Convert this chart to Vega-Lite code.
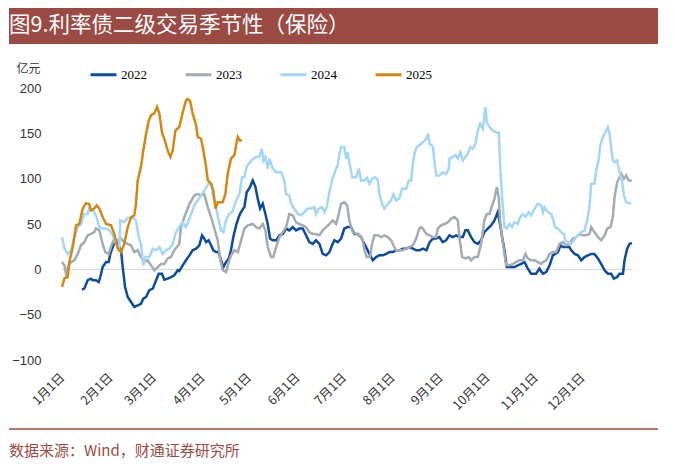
{
"$schema": "https://vega.github.io/schema/vega-lite/v6.json",
"padding": {"left": 8, "top": 8, "right": 8, "bottom": 0},
"background": "white",
"config": {"view": {"stroke": null}, "font": "Noto Sans CJK SC"},
"columns": 1,
"align": "none",
"spacing": 16,
"resolve": {"legend": {"color": "independent"}, "scale": {"x": "independent", "y": "independent"}},
"concat": [
{
"width": 649, "height": 36,
"data": {"values": [{"t": "图9.利率债二级交易季节性（保险）"}]},
"layer": [
{"mark": {"type": "rect", "color": "#9B4B44"}, "encoding": {}},
{"mark": {"type": "text", "align": "left", "baseline": "middle", "color": "white", "fontSize": 21.5, "font": "Noto Sans CJK SC"},
 "encoding": {"text": {"field": "t", "type": "nominal"},
  "x": {"datum": 0, "type": "quantitative", "scale": {"domain": [0, 1]}, "axis": null},
  "y": {"datum": 0.5, "type": "quantitative", "scale": {"domain": [0, 1]}, "axis": null}}}
]
},
{
"width": 623, "height": 272,
"layer": [
{
"data": {"values": [{"z": 0, "a": 1, "b": 367}]},
"mark": {"type": "rule", "color": "#d4d4d4", "strokeWidth": 1},
"encoding": {"y": {"field": "z", "type": "quantitative"}, "x": {"field": "a", "type": "quantitative"}, "x2": {"field": "b"}}
},
{
"data": {"values": [
{"s":"2022","d":13.8,"v":-22.4},{"s":"2022","d":15.3,"v":-21.3},{"s":"2022","d":17.5,"v":-12},{"s":"2022","d":19.6,"v":-10.3},{"s":"2022","d":20.7,"v":-12},{"s":"2022","d":22.8,"v":-12},{"s":"2022","d":24.6,"v":-14},{"s":"2022","d":25.6,"v":-8.5},{"s":"2022","d":27.1,"v":2.5},{"s":"2022","d":29.3,"v":8},{"s":"2022","d":31,"v":8},{"s":"2022","d":32,"v":17},{"s":"2022","d":33.6,"v":24.6},{"s":"2022","d":35.2,"v":32},{"s":"2022","d":36.8,"v":28},{"s":"2022","d":38.9,"v":21},{"s":"2022","d":40,"v":2.5},{"s":"2022","d":41.5,"v":-19.5},{"s":"2022","d":43.2,"v":-30.5},{"s":"2022","d":45.3,"v":-36},{"s":"2022","d":47.4,"v":-41.5},{"s":"2022","d":49.6,"v":-39.7},{"s":"2022","d":51.7,"v":-38},{"s":"2022","d":53.2,"v":-32.3},{"s":"2022","d":55,"v":-30.5},{"s":"2022","d":57.1,"v":-23},{"s":"2022","d":59.3,"v":-21.3},{"s":"2022","d":61.4,"v":-12},{"s":"2022","d":63.1,"v":-4.8},{"s":"2022","d":65.2,"v":-4.8},{"s":"2022","d":66.7,"v":-11.4},{"s":"2022","d":68.9,"v":-10.3},{"s":"2022","d":71,"v":-8.5},{"s":"2022","d":73.1,"v":-6.6},{"s":"2022","d":75.3,"v":-1},{"s":"2022","d":76.3,"v":-2},{"s":"2022","d":78.5,"v":4.4},{"s":"2022","d":80.6,"v":10},{"s":"2022","d":82.8,"v":15.4},{"s":"2022","d":84.9,"v":21},{"s":"2022","d":87.1,"v":22.8},{"s":"2022","d":89.2,"v":26.5},{"s":"2022","d":90.9,"v":37.5},{"s":"2022","d":92.4,"v":33.8},{"s":"2022","d":93.5,"v":30},{"s":"2022","d":95.2,"v":32},{"s":"2022","d":96.7,"v":26.5},{"s":"2022","d":98.2,"v":21},{"s":"2022","d":99.9,"v":19},{"s":"2022","d":101.6,"v":19},{"s":"2022","d":103.1,"v":10},{"s":"2022","d":104.6,"v":2.5},{"s":"2022","d":106.3,"v":8},{"s":"2022","d":108.1,"v":12},{"s":"2022","d":109.5,"v":21},{"s":"2022","d":111,"v":35.6},{"s":"2022","d":112.8,"v":48.5},{"s":"2022","d":114.5,"v":57.7},{"s":"2022","d":115.3,"v":61},{"s":"2022","d":116.6,"v":65},{"s":"2022","d":118.1,"v":68.7},{"s":"2022","d":119.6,"v":85},{"s":"2022","d":121.8,"v":91},{"s":"2022","d":123.5,"v":98},{"s":"2022","d":125.2,"v":91},{"s":"2022","d":126.7,"v":78},{"s":"2022","d":128.2,"v":67},{"s":"2022","d":129.9,"v":72.4},{"s":"2022","d":131.6,"v":61},{"s":"2022","d":133.1,"v":50},{"s":"2022","d":134.6,"v":34},{"s":"2022","d":136.3,"v":32},{"s":"2022","d":138.5,"v":32},{"s":"2022","d":140.6,"v":37.5},{"s":"2022","d":142.8,"v":39},{"s":"2022","d":144.9,"v":45},{"s":"2022","d":147,"v":43},{"s":"2022","d":149.2,"v":46.6},{"s":"2022","d":151.3,"v":43},{"s":"2022","d":153.4,"v":45},{"s":"2022","d":155.6,"v":45},{"s":"2022","d":157.7,"v":37.5},{"s":"2022","d":159.8,"v":30},{"s":"2022","d":162,"v":28},{"s":"2022","d":164.1,"v":32},{"s":"2022","d":166.3,"v":28},{"s":"2022","d":168.4,"v":17},{"s":"2022","d":170.6,"v":15.4},{"s":"2022","d":172.7,"v":19},{"s":"2022","d":174.4,"v":26.5},{"s":"2022","d":175.9,"v":32},{"s":"2022","d":178.1,"v":30},{"s":"2022","d":180.2,"v":34},{"s":"2022","d":182.3,"v":45},{"s":"2022","d":184.5,"v":46.6},{"s":"2022","d":186.6,"v":46.6},{"s":"2022","d":188.7,"v":39},{"s":"2022","d":190.9,"v":39},{"s":"2022","d":193,"v":35.6},{"s":"2022","d":195.2,"v":28},{"s":"2022","d":196.7,"v":22.8},{"s":"2022","d":198.4,"v":17},{"s":"2022","d":200.6,"v":10},{"s":"2022","d":202.7,"v":13.6},{"s":"2022","d":204.8,"v":15.4},{"s":"2022","d":207,"v":15.4},{"s":"2022","d":209.1,"v":17},{"s":"2022","d":211.2,"v":19},{"s":"2022","d":213.4,"v":19},{"s":"2022","d":215.5,"v":21},{"s":"2022","d":217.6,"v":21},{"s":"2022","d":219.8,"v":22.8},{"s":"2022","d":221.9,"v":22.8},{"s":"2022","d":224.1,"v":24.6},{"s":"2022","d":226.3,"v":22.8},{"s":"2022","d":228.4,"v":21},{"s":"2022","d":230.5,"v":21},{"s":"2022","d":232.7,"v":22.8},{"s":"2022","d":235,"v":21},{"s":"2022","d":237.1,"v":30},{"s":"2022","d":239.3,"v":34},{"s":"2022","d":241.2,"v":34},{"s":"2022","d":243.3,"v":35.6},{"s":"2022","d":245.5,"v":30},{"s":"2022","d":247.6,"v":32},{"s":"2022","d":249.8,"v":37.5},{"s":"2022","d":251.9,"v":35.6},{"s":"2022","d":254.1,"v":37.5},{"s":"2022","d":256.2,"v":35.6},{"s":"2022","d":258.4,"v":35.6},{"s":"2022","d":260,"v":43},{"s":"2022","d":261.6,"v":43},{"s":"2022","d":263.7,"v":35.6},{"s":"2022","d":265.8,"v":30},{"s":"2022","d":268,"v":28},{"s":"2022","d":270.1,"v":32},{"s":"2022","d":272.2,"v":41},{"s":"2022","d":274.4,"v":45},{"s":"2022","d":276.5,"v":48.5},{"s":"2022","d":278.7,"v":54},{"s":"2022","d":280.8,"v":63},{"s":"2022","d":282.3,"v":50},{"s":"2022","d":283.6,"v":35.6},{"s":"2022","d":285.1,"v":21},{"s":"2022","d":286.6,"v":2.5},{"s":"2022","d":289.4,"v":2.5},{"s":"2022","d":291.5,"v":2.5},{"s":"2022","d":293.7,"v":4.4},{"s":"2022","d":295.8,"v":6},{"s":"2022","d":298,"v":8},{"s":"2022","d":300.1,"v":0.8},{"s":"2022","d":302.2,"v":-4.8},{"s":"2022","d":305.4,"v":-4.8},{"s":"2022","d":307.6,"v":0.8},{"s":"2022","d":308.2,"v":-1},{"s":"2022","d":309.8,"v":-4.8},{"s":"2022","d":311.9,"v":-3},{"s":"2022","d":314.1,"v":4.4},{"s":"2022","d":316.2,"v":15.4},{"s":"2022","d":317.7,"v":17},{"s":"2022","d":319.4,"v":19},{"s":"2022","d":321.1,"v":26.5},{"s":"2022","d":322.6,"v":24.6},{"s":"2022","d":324.7,"v":24.6},{"s":"2022","d":326.8,"v":24.6},{"s":"2022","d":328,"v":21},{"s":"2022","d":330.1,"v":17},{"s":"2022","d":332.3,"v":15.4},{"s":"2022","d":334.4,"v":10},{"s":"2022","d":336.5,"v":13.6},{"s":"2022","d":338.7,"v":15.4},{"s":"2022","d":340.8,"v":17},{"s":"2022","d":342.9,"v":17},{"s":"2022","d":345.1,"v":12},{"s":"2022","d":347.2,"v":6},{"s":"2022","d":349.4,"v":-1},{"s":"2022","d":351.5,"v":-4.8},{"s":"2022","d":353.6,"v":-4.8},{"s":"2022","d":355.4,"v":-10.3},{"s":"2022","d":357.5,"v":-8.5},{"s":"2022","d":359,"v":-4.8},{"s":"2022","d":361.2,"v":-4.8},{"s":"2022","d":362.2,"v":10},{"s":"2022","d":363.9,"v":22.8},{"s":"2022","d":365.4,"v":28},{"s":"2022","d":366.9,"v":29},
{"s":"2023","d":1,"v":8},{"s":"2023","d":2.5,"v":4.4},{"s":"2023","d":3.6,"v":-4.8},{"s":"2023","d":5.3,"v":4.4},{"s":"2023","d":6.8,"v":8},{"s":"2023","d":8.9,"v":10},{"s":"2023","d":11.1,"v":17},{"s":"2023","d":13.2,"v":26.5},{"s":"2023","d":15.3,"v":30},{"s":"2023","d":17.5,"v":37.5},{"s":"2023","d":19.6,"v":39},{"s":"2023","d":21.7,"v":41},{"s":"2023","d":22.8,"v":45},{"s":"2023","d":25,"v":43},{"s":"2023","d":27.1,"v":28},{"s":"2023","d":28.8,"v":19},{"s":"2023","d":31,"v":17},{"s":"2023","d":33.1,"v":28},{"s":"2023","d":34.6,"v":34},{"s":"2023","d":36.8,"v":32},{"s":"2023","d":38.9,"v":34},{"s":"2023","d":41,"v":30},{"s":"2023","d":43.2,"v":28},{"s":"2023","d":45.3,"v":26.5},{"s":"2023","d":47.4,"v":19},{"s":"2023","d":49.6,"v":21},{"s":"2023","d":51.7,"v":13.6},{"s":"2023","d":53.9,"v":8},{"s":"2023","d":56,"v":10},{"s":"2023","d":58.2,"v":4.4},{"s":"2023","d":60.3,"v":-1},{"s":"2023","d":62.5,"v":2.5},{"s":"2023","d":64.6,"v":6},{"s":"2023","d":66.7,"v":6},{"s":"2023","d":68.9,"v":12},{"s":"2023","d":71,"v":13.6},{"s":"2023","d":73.1,"v":21},{"s":"2023","d":76.3,"v":28},{"s":"2023","d":77.4,"v":46.6},{"s":"2023","d":79.6,"v":57.7},{"s":"2023","d":82.8,"v":72},{"s":"2023","d":86,"v":81.6},{"s":"2023","d":88.2,"v":83},{"s":"2023","d":90.3,"v":81.6},{"s":"2023","d":92.4,"v":83},{"s":"2023","d":94.6,"v":68.7},{"s":"2023","d":96.7,"v":57.7},{"s":"2023","d":98.8,"v":45},{"s":"2023","d":101,"v":32},{"s":"2023","d":102.5,"v":11.8},{"s":"2023","d":104.2,"v":-1},{"s":"2023","d":106.3,"v":-3},{"s":"2023","d":108.1,"v":8},{"s":"2023","d":109.5,"v":15.4},{"s":"2023","d":111.7,"v":21},{"s":"2023","d":113.9,"v":19},{"s":"2023","d":116,"v":32},{"s":"2023","d":118.1,"v":45},{"s":"2023","d":120.3,"v":48.5},{"s":"2023","d":123.5,"v":50},{"s":"2023","d":125.6,"v":46.6},{"s":"2023","d":127.7,"v":45},{"s":"2023","d":129.9,"v":50},{"s":"2023","d":131.6,"v":43},{"s":"2023","d":133.1,"v":24.6},{"s":"2023","d":135.2,"v":13.6},{"s":"2023","d":136.7,"v":13.6},{"s":"2023","d":138.5,"v":24.6},{"s":"2023","d":140.6,"v":35.6},{"s":"2023","d":142.8,"v":41},{"s":"2023","d":144.9,"v":46.6},{"s":"2023","d":147,"v":61},{"s":"2023","d":149.2,"v":59.5},{"s":"2023","d":151.3,"v":52},{"s":"2023","d":153.4,"v":50},{"s":"2023","d":155.6,"v":48.5},{"s":"2023","d":157.7,"v":46.6},{"s":"2023","d":159.8,"v":41},{"s":"2023","d":162,"v":39},{"s":"2023","d":164.1,"v":39},{"s":"2023","d":166.3,"v":37.5},{"s":"2023","d":168.4,"v":43},{"s":"2023","d":170.6,"v":46.6},{"s":"2023","d":172.7,"v":50},{"s":"2023","d":174.9,"v":54},{"s":"2023","d":177,"v":50},{"s":"2023","d":178.7,"v":61},{"s":"2023","d":180.2,"v":72.4},{"s":"2023","d":182.3,"v":74},{"s":"2023","d":184.1,"v":70.6},{"s":"2023","d":185.5,"v":54},{"s":"2023","d":186.6,"v":46.6},{"s":"2023","d":187.7,"v":41},{"s":"2023","d":189.8,"v":39},{"s":"2023","d":192,"v":37.5},{"s":"2023","d":194.1,"v":32},{"s":"2023","d":195.2,"v":21},{"s":"2023","d":196.7,"v":13.6},{"s":"2023","d":198.8,"v":13.6},{"s":"2023","d":200.1,"v":28},{"s":"2023","d":201.6,"v":37.5},{"s":"2023","d":203.8,"v":37.5},{"s":"2023","d":205.9,"v":35.6},{"s":"2023","d":208,"v":37.5},{"s":"2023","d":210.2,"v":35.6},{"s":"2023","d":212.3,"v":32},{"s":"2023","d":213.8,"v":26.5},{"s":"2023","d":215.5,"v":21},{"s":"2023","d":217.6,"v":21},{"s":"2023","d":219.8,"v":21},{"s":"2023","d":221.9,"v":22.8},{"s":"2023","d":224.1,"v":24.6},{"s":"2023","d":226.3,"v":26.5},{"s":"2023","d":228.4,"v":34},{"s":"2023","d":230.5,"v":45},{"s":"2023","d":231.6,"v":46.6},{"s":"2023","d":232.7,"v":45},{"s":"2023","d":235,"v":39},{"s":"2023","d":237.1,"v":37.5},{"s":"2023","d":238.7,"v":35.6},{"s":"2023","d":241.2,"v":35.6},{"s":"2023","d":242.3,"v":45},{"s":"2023","d":244.4,"v":48.5},{"s":"2023","d":246.6,"v":50},{"s":"2023","d":248.8,"v":52},{"s":"2023","d":250.9,"v":56},{"s":"2023","d":253,"v":57.7},{"s":"2023","d":255.2,"v":54},{"s":"2023","d":256.2,"v":35.6},{"s":"2023","d":257.9,"v":13.6},{"s":"2023","d":260,"v":12},{"s":"2023","d":262.2,"v":13.6},{"s":"2023","d":263.7,"v":10},{"s":"2023","d":265.8,"v":13.6},{"s":"2023","d":268,"v":13.6},{"s":"2023","d":270.1,"v":28},{"s":"2023","d":272.2,"v":54},{"s":"2023","d":273.8,"v":61},{"s":"2023","d":275.5,"v":61},{"s":"2023","d":277.2,"v":70.6},{"s":"2023","d":278.7,"v":78},{"s":"2023","d":280.2,"v":90.7},{"s":"2023","d":281.5,"v":78},{"s":"2023","d":282.3,"v":54},{"s":"2023","d":283.6,"v":35.6},{"s":"2023","d":285.1,"v":17},{"s":"2023","d":286.2,"v":4.4},{"s":"2023","d":288.3,"v":4.4},{"s":"2023","d":290.5,"v":6},{"s":"2023","d":292.6,"v":8},{"s":"2023","d":294.7,"v":10},{"s":"2023","d":296.9,"v":10},{"s":"2023","d":298.6,"v":17},{"s":"2023","d":300.1,"v":12},{"s":"2023","d":302.2,"v":10},{"s":"2023","d":304.4,"v":10},{"s":"2023","d":306.5,"v":8},{"s":"2023","d":308.7,"v":6},{"s":"2023","d":309.8,"v":8},{"s":"2023","d":311.9,"v":10},{"s":"2023","d":314.1,"v":17},{"s":"2023","d":316.2,"v":19},{"s":"2023","d":318.3,"v":19},{"s":"2023","d":320.4,"v":28},{"s":"2023","d":322.6,"v":30},{"s":"2023","d":324.7,"v":26.5},{"s":"2023","d":326.8,"v":28},{"s":"2023","d":329,"v":34},{"s":"2023","d":331.1,"v":35.6},{"s":"2023","d":333.3,"v":39},{"s":"2023","d":335.4,"v":37.5},{"s":"2023","d":337.6,"v":37.5},{"s":"2023","d":339.7,"v":39},{"s":"2023","d":340.8,"v":46.6},{"s":"2023","d":342.9,"v":41},{"s":"2023","d":345.1,"v":35.6},{"s":"2023","d":347.2,"v":32},{"s":"2023","d":349.4,"v":37.5},{"s":"2023","d":351.1,"v":45},{"s":"2023","d":353.2,"v":46.6},{"s":"2023","d":354.7,"v":57.7},{"s":"2023","d":355.8,"v":80},{"s":"2023","d":357.5,"v":96},{"s":"2023","d":359,"v":101.7},{"s":"2023","d":360.1,"v":105.5},{"s":"2023","d":361.8,"v":100},{"s":"2023","d":363.3,"v":103.6},{"s":"2023","d":364.8,"v":98},{"s":"2023","d":366.9,"v":98},
{"s":"2024","d":1,"v":35.6},{"s":"2024","d":2.5,"v":23},{"s":"2024","d":4.7,"v":17},{"s":"2024","d":6.8,"v":21},{"s":"2024","d":8.9,"v":34},{"s":"2024","d":11.1,"v":46.6},{"s":"2024","d":13.2,"v":50},{"s":"2024","d":15.3,"v":61},{"s":"2024","d":17.5,"v":61},{"s":"2024","d":18.5,"v":67},{"s":"2024","d":20.7,"v":65},{"s":"2024","d":22.8,"v":59.5},{"s":"2024","d":25,"v":46.6},{"s":"2024","d":27.1,"v":45},{"s":"2024","d":29.3,"v":45},{"s":"2024","d":31.4,"v":43},{"s":"2024","d":33.6,"v":37.5},{"s":"2024","d":35.7,"v":28},{"s":"2024","d":37.8,"v":24.6},{"s":"2024","d":38.4,"v":54},{"s":"2024","d":41,"v":52},{"s":"2024","d":43.2,"v":57},{"s":"2024","d":46.4,"v":57},{"s":"2024","d":48.5,"v":54},{"s":"2024","d":50.3,"v":35.6},{"s":"2024","d":51.7,"v":28},{"s":"2024","d":53.2,"v":4.4},{"s":"2024","d":54.5,"v":13.6},{"s":"2024","d":57.1,"v":13.6},{"s":"2024","d":59.3,"v":22.8},{"s":"2024","d":61.4,"v":21},{"s":"2024","d":63.5,"v":24.6},{"s":"2024","d":65.7,"v":17},{"s":"2024","d":67.8,"v":21},{"s":"2024","d":69.9,"v":23},{"s":"2024","d":72.1,"v":28},{"s":"2024","d":73.8,"v":39},{"s":"2024","d":76.3,"v":47},{"s":"2024","d":78.5,"v":52},{"s":"2024","d":80.6,"v":46.6},{"s":"2024","d":82.4,"v":54},{"s":"2024","d":83.9,"v":61},{"s":"2024","d":86,"v":70.6},{"s":"2024","d":88.2,"v":76},{"s":"2024","d":90.3,"v":81.6},{"s":"2024","d":92.4,"v":87},{"s":"2024","d":95.2,"v":94.5},{"s":"2024","d":96.7,"v":94},{"s":"2024","d":97.8,"v":83},{"s":"2024","d":99.9,"v":68.7},{"s":"2024","d":101.6,"v":54},{"s":"2024","d":103.1,"v":43},{"s":"2024","d":104.6,"v":41},{"s":"2024","d":106.3,"v":54},{"s":"2024","d":108.1,"v":61},{"s":"2024","d":110.2,"v":63},{"s":"2024","d":112.8,"v":76},{"s":"2024","d":114.9,"v":83},{"s":"2024","d":116.6,"v":101.7},{"s":"2024","d":118.1,"v":101.7},{"s":"2024","d":119.6,"v":113},{"s":"2024","d":122.4,"v":120},{"s":"2024","d":125.6,"v":124},{"s":"2024","d":127.7,"v":124},{"s":"2024","d":129.3,"v":133},{"s":"2024","d":130.3,"v":120},{"s":"2024","d":131.6,"v":124},{"s":"2024","d":133.1,"v":111},{"s":"2024","d":134.2,"v":122},{"s":"2024","d":136.3,"v":111},{"s":"2024","d":138.5,"v":107},{"s":"2024","d":141.7,"v":107},{"s":"2024","d":143.8,"v":98},{"s":"2024","d":144.9,"v":83},{"s":"2024","d":147,"v":81.6},{"s":"2024","d":148.1,"v":72.4},{"s":"2024","d":150.2,"v":67},{"s":"2024","d":152.4,"v":61},{"s":"2024","d":154.5,"v":59.5},{"s":"2024","d":156.6,"v":63},{"s":"2024","d":158.8,"v":67},{"s":"2024","d":160.9,"v":67},{"s":"2024","d":163,"v":68.7},{"s":"2024","d":164.1,"v":61},{"s":"2024","d":165.9,"v":67},{"s":"2024","d":168,"v":68.7},{"s":"2024","d":169.5,"v":63},{"s":"2024","d":171,"v":68.7},{"s":"2024","d":172.7,"v":85},{"s":"2024","d":174.4,"v":98},{"s":"2024","d":176.5,"v":109},{"s":"2024","d":178.1,"v":115},{"s":"2024","d":179.1,"v":127.6},{"s":"2024","d":180.2,"v":135},{"s":"2024","d":182.3,"v":135},{"s":"2024","d":183.4,"v":122},{"s":"2024","d":184.5,"v":129},{"s":"2024","d":185.5,"v":118},{"s":"2024","d":187.3,"v":101.7},{"s":"2024","d":189.8,"v":101.7},{"s":"2024","d":191.6,"v":111},{"s":"2024","d":193,"v":98},{"s":"2024","d":195.2,"v":98},{"s":"2024","d":196.9,"v":101},{"s":"2024","d":198.4,"v":94.5},{"s":"2024","d":200.1,"v":100},{"s":"2024","d":202.2,"v":101.7},{"s":"2024","d":203.8,"v":98},{"s":"2024","d":204.8,"v":83},{"s":"2024","d":206.5,"v":72.4},{"s":"2024","d":208,"v":67},{"s":"2024","d":210.2,"v":72.4},{"s":"2024","d":212.3,"v":76},{"s":"2024","d":213.8,"v":83},{"s":"2024","d":215.5,"v":76},{"s":"2024","d":217.6,"v":78},{"s":"2024","d":219.4,"v":89},{"s":"2024","d":221.9,"v":89},{"s":"2024","d":223.7,"v":98},{"s":"2024","d":225.2,"v":98},{"s":"2024","d":226.3,"v":116.5},{"s":"2024","d":227.3,"v":127.6},{"s":"2024","d":228.8,"v":135},{"s":"2024","d":230.5,"v":137},{"s":"2024","d":232.7,"v":140},{"s":"2024","d":235,"v":144},{"s":"2024","d":236.1,"v":149.6},{"s":"2024","d":237.1,"v":138.6},{"s":"2024","d":239.2,"v":135},{"s":"2024","d":240.1,"v":120},{"s":"2024","d":241.2,"v":103.6},{"s":"2024","d":243.3,"v":103.6},{"s":"2024","d":245.5,"v":107},{"s":"2024","d":247.6,"v":105},{"s":"2024","d":249.4,"v":111},{"s":"2024","d":249.8,"v":122},{"s":"2024","d":251.9,"v":124},{"s":"2024","d":253.6,"v":126},{"s":"2024","d":255.2,"v":122},{"s":"2024","d":256.8,"v":129},{"s":"2024","d":258.4,"v":120},{"s":"2024","d":260,"v":124},{"s":"2024","d":261.6,"v":127.6},{"s":"2024","d":263.1,"v":135},{"s":"2024","d":264.8,"v":133},{"s":"2024","d":266.5,"v":138.6},{"s":"2024","d":268,"v":153},{"s":"2024","d":269.5,"v":160.6},{"s":"2024","d":271.2,"v":155},{"s":"2024","d":272.9,"v":179},{"s":"2024","d":273.8,"v":162},{"s":"2024","d":275.5,"v":157},{"s":"2024","d":277.6,"v":153},{"s":"2024","d":279.8,"v":151},{"s":"2024","d":281.5,"v":151},{"s":"2024","d":282.3,"v":116.5},{"s":"2024","d":283.6,"v":80},{"s":"2024","d":285.1,"v":46.6},{"s":"2024","d":286.6,"v":45},{"s":"2024","d":288.3,"v":50},{"s":"2024","d":290,"v":46.6},{"s":"2024","d":291.5,"v":52},{"s":"2024","d":293.7,"v":50},{"s":"2024","d":294.7,"v":56},{"s":"2024","d":296.9,"v":61},{"s":"2024","d":298.6,"v":57.7},{"s":"2024","d":300.8,"v":63},{"s":"2024","d":302.2,"v":59.5},{"s":"2024","d":304.4,"v":67},{"s":"2024","d":306.5,"v":72.4},{"s":"2024","d":308.7,"v":70.6},{"s":"2024","d":309.8,"v":63},{"s":"2024","d":310.8,"v":68.7},{"s":"2024","d":313,"v":63},{"s":"2024","d":315.1,"v":61},{"s":"2024","d":316.2,"v":56},{"s":"2024","d":317.7,"v":46.6},{"s":"2024","d":319.4,"v":45},{"s":"2024","d":321.5,"v":41},{"s":"2024","d":323.3,"v":39},{"s":"2024","d":324.1,"v":32},{"s":"2024","d":325.8,"v":30},{"s":"2024","d":328,"v":28},{"s":"2024","d":329.7,"v":32},{"s":"2024","d":331.1,"v":35.6},{"s":"2024","d":333.3,"v":39},{"s":"2024","d":334.4,"v":41},{"s":"2024","d":336.5,"v":43},{"s":"2024","d":338.2,"v":54},{"s":"2024","d":339.7,"v":68.7},{"s":"2024","d":340.8,"v":94.5},{"s":"2024","d":342.9,"v":94.5},{"s":"2024","d":344,"v":109},{"s":"2024","d":345.5,"v":120},{"s":"2024","d":346.7,"v":137},{"s":"2024","d":348.3,"v":146},{"s":"2024","d":349.8,"v":151},{"s":"2024","d":351.5,"v":157},{"s":"2024","d":352.6,"v":149.6},{"s":"2024","d":353.6,"v":135},{"s":"2024","d":354.7,"v":120},{"s":"2024","d":356.2,"v":118},{"s":"2024","d":357.5,"v":120},{"s":"2024","d":359,"v":107},{"s":"2024","d":360.5,"v":98},{"s":"2024","d":361.8,"v":81.6},{"s":"2024","d":363.3,"v":74},{"s":"2024","d":366.5,"v":72.4},
{"s":"2025","d":1,"v":-19.5},{"s":"2025","d":2.5,"v":-10},{"s":"2025","d":4.7,"v":-8.5},{"s":"2025","d":5.7,"v":8},{"s":"2025","d":7.9,"v":24.6},{"s":"2025","d":10,"v":48.5},{"s":"2025","d":12.1,"v":50},{"s":"2025","d":14.3,"v":67},{"s":"2025","d":16.4,"v":73},{"s":"2025","d":18.5,"v":72},{"s":"2025","d":19.6,"v":65},{"s":"2025","d":21.7,"v":67},{"s":"2025","d":23.3,"v":70.6},{"s":"2025","d":25,"v":67},{"s":"2025","d":27.1,"v":57.7},{"s":"2025","d":29.3,"v":50},{"s":"2025","d":32.5,"v":48.5},{"s":"2025","d":34.6,"v":39},{"s":"2025","d":36.8,"v":22.8},{"s":"2025","d":38.9,"v":19},{"s":"2025","d":41,"v":28},{"s":"2025","d":43.2,"v":46.6},{"s":"2025","d":45.3,"v":57},{"s":"2025","d":47.4,"v":59.5},{"s":"2025","d":48.5,"v":72},{"s":"2025","d":49.6,"v":98},{"s":"2025","d":51.7,"v":113},{"s":"2025","d":53.2,"v":131},{"s":"2025","d":55,"v":149.6},{"s":"2025","d":56.7,"v":164},{"s":"2025","d":58.2,"v":170},{"s":"2025","d":60.3,"v":172},{"s":"2025","d":62,"v":179},{"s":"2025","d":63.5,"v":172},{"s":"2025","d":65.2,"v":151},{"s":"2025","d":66.7,"v":144},{"s":"2025","d":68.9,"v":131},{"s":"2025","d":70.6,"v":124},{"s":"2025","d":72.1,"v":131},{"s":"2025","d":73.8,"v":153},{"s":"2025","d":76.3,"v":157},{"s":"2025","d":78.5,"v":173},{"s":"2025","d":80.6,"v":186},{"s":"2025","d":81.7,"v":188},{"s":"2025","d":83.2,"v":186},{"s":"2025","d":84.9,"v":172},{"s":"2025","d":87.1,"v":159},{"s":"2025","d":88.2,"v":146},{"s":"2025","d":90.3,"v":144},{"s":"2025","d":91.4,"v":135},{"s":"2025","d":93.5,"v":113},{"s":"2025","d":94.6,"v":98},{"s":"2025","d":96.7,"v":94.5},{"s":"2025","d":98.2,"v":87},{"s":"2025","d":99.5,"v":67},{"s":"2025","d":101,"v":74},{"s":"2025","d":104.2,"v":74},{"s":"2025","d":105.9,"v":83},{"s":"2025","d":107.4,"v":105.5},{"s":"2025","d":109.5,"v":122},{"s":"2025","d":111.7,"v":126},{"s":"2025","d":112.8,"v":137},{"s":"2025","d":113.9,"v":146},{"s":"2025","d":115.3,"v":142},{"s":"2025","d":116.6,"v":142}
]},
"mark": {"type": "line", "strokeWidth": 2.5},
"encoding": {
"x": {"field": "d", "type": "quantitative", "scale": {"domain": [-33.03, 367], "nice": false, "zero": false},
 "axis": {"values": [1,32,60,91,121,152,182,213,244,274,305,335], "labelExpr": "['1月1日','2月1日','3月1日','4月1日','5月1日','6月1日','7月1日','8月1日','9月1日','10月1日','11月1日','12月1日'][indexof([1,32,60,91,121,152,182,213,244,274,305,335], datum.value)]", "labelAngle": -45, "labelAlign": "right", "labelBaseline": "middle", "domain": false, "ticks": false, "grid": false, "labelPadding": 15, "labelFontSize": 12.5, "labelColor": "#333333", "labelFont": "Noto Sans CJK SC", "labelOverlap": false, "labelBound": false, "labelFlush": false, "title": null}},
"y": {"field": "v", "type": "quantitative", "scale": {"domain": [-100, 200], "nice": false},
 "axis": {"offset": -53, "values": [-100,-50,0,50,100,150,200], "domain": false, "ticks": false, "grid": false, "labelPadding": 21, "labelFontSize": 13, "labelColor": "#333333", "labelFont": "Liberation Sans", "title": "亿元", "titleAngle": 0, "titleX": -46, "titleY": -20, "titleAlign": "left", "titleBaseline": "middle", "titleFontSize": 12, "titleFontWeight": "normal", "titleColor": "#333333", "titleFont": "Noto Sans CJK SC"}},
"color": {"field": "s", "type": "nominal", "scale": {"domain": ["2022","2023","2024","2025"], "range": ["#0B4C9C","#A5ABB2","#A3D6F7","#D08A14"]},
 "legend": {"orient": "none", "legendX": 80, "legendY": -28, "padding": 0, "direction": "horizontal", "title": null, "symbolType": "stroke", "symbolSize": 676, "symbolStrokeWidth": 3, "labelFont": "Liberation Serif", "labelFontSize": 13, "labelColor": "#000000", "columnPadding": 32, "labelOffset": 3}}
}
}
]
},
{
"width": 649, "height": 32,
"data": {"values": [{"t": "数据来源：Wind，财通证券研究所"}]},
"layer": [
{"mark": {"type": "rule", "color": "#9B4B44", "strokeWidth": 1.5},
 "encoding": {"y": {"datum": 1, "type": "quantitative", "scale": {"domain": [0, 1]}, "axis": null}}},
{"mark": {"type": "text", "align": "left", "baseline": "middle", "color": "#9B4B44", "fontSize": 15, "font": "Noto Sans CJK SC"},
 "encoding": {"text": {"field": "t", "type": "nominal"},
  "x": {"datum": 0, "type": "quantitative", "scale": {"domain": [0, 1]}, "axis": null},
  "y": {"datum": 0.3, "type": "quantitative", "scale": {"domain": [0, 1]}, "axis": null}}}
]
}
]
}
